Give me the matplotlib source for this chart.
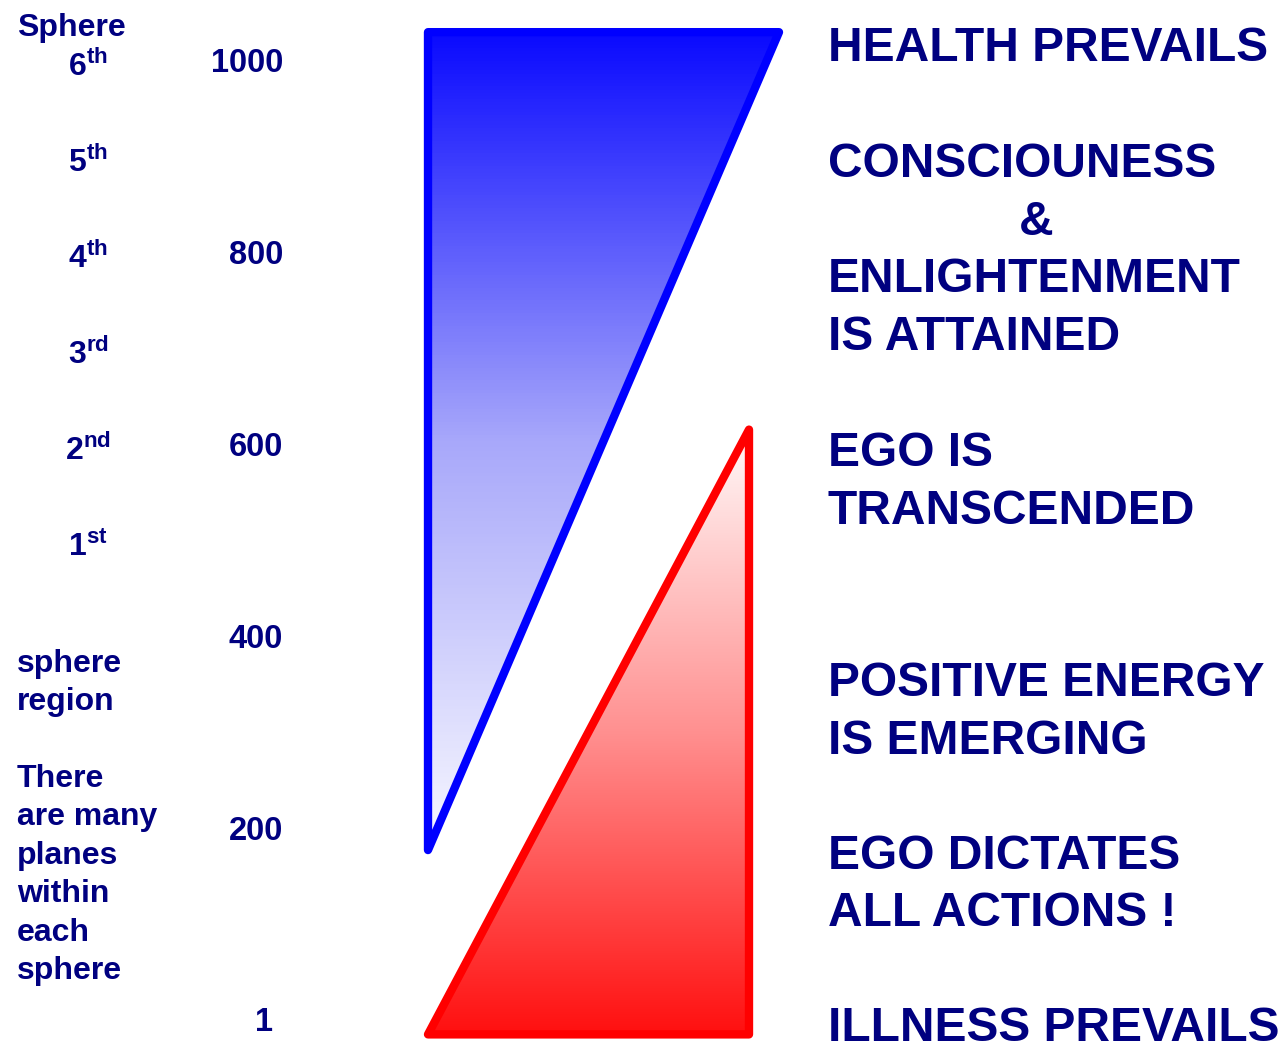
import numpy as np
import matplotlib.pyplot as plt
from matplotlib.patches import Polygon
from matplotlib.colors import LinearSegmentedColormap

plt.rcParams['font.family'] = ['Liberation Sans', 'DejaVu Sans']
plt.rcParams['font.weight'] = 'bold'
plt.rcParams['mathtext.fontset'] = 'custom'
plt.rcParams['mathtext.bf'] = 'Liberation Sans:bold'
plt.rcParams['mathtext.rm'] = 'Liberation Sans:bold'

navy = "#000080"

# scale values (consciousness level)
scale_values = [1000, 800, 600, 400, 200, 1]
scale_labels = ["1000", "800", "600", "400", "200", "1"]

# spheres
sphere_levels = [1000, 900, 800, 700, 600, 500]
sphere_nums = ["6", "5", "4", "3", "2", "1"]
sphere_sups = ["th", "th", "th", "rd", "nd", "st"]

# triangles in scale units (top, bottom)
blue_top, blue_bottom = 1029, 177
red_top, red_bottom = 615, -15

# right-hand phrases and their levels
phrases = ["HEALTH PREVAILS", "CONSCIOUNESS", "ENLIGHTENMENT", "IS ATTAINED",
           "EGO IS", "TRANSCENDED", "POSITIVE ENERGY", "IS EMERGING",
           "EGO DICTATES", "ALL ACTIONS !", "ILLNESS PREVAILS"]
phrase_levels = [1016, 895, 775, 715, 594, 534, 354, 294, 174, 115, -5]

notes = ["sphere", "region", "", "There", "are many", "planes", "within", "each", "sphere"]

fig = plt.figure(figsize=(12.87, 10.44), dpi=100)
ax = fig.add_axes([0, 0, 1, 1])
ax.set_xlim(0, 1287)
ax.set_ylim(-25, 1062.5)
ax.axis("off")

dy = 4  # text nudge down

# blue gradient triangle
blue_pts = [(428, blue_top), (779, blue_top), (428, blue_bottom)]
blue_cmap = LinearSegmentedColormap.from_list("b", ["#F8F8FF", "#A8A8FA", "#0A0AFF"])
grad = np.linspace(0, 1, 256).reshape(-1, 1)
im = ax.imshow(grad, cmap=blue_cmap, extent=(428, 779, blue_bottom, blue_top),
               origin="lower", aspect="auto", zorder=1)
poly = Polygon(blue_pts, closed=True, facecolor="none", edgecolor="#0000FF",
               linewidth=6, joinstyle="round", zorder=2)
ax.add_patch(poly)
im.set_clip_path(poly)

# red gradient triangle
red_pts = [(428, red_bottom), (749, red_bottom), (749, red_top)]
red_cmap = LinearSegmentedColormap.from_list("r", ["#FF1010", "#FF9090", "#FFFAFA"])
im2 = ax.imshow(grad, cmap=red_cmap, extent=(428, 749, red_bottom, red_top),
                origin="lower", aspect="auto", zorder=1)
poly2 = Polygon(red_pts, closed=True, facecolor="none", edgecolor="#FF0000",
                linewidth=6, joinstyle="round", zorder=2)
ax.add_patch(poly2)
im2.set_clip_path(poly2)

# scale numbers
for v, lab in zip(scale_values, scale_labels):
    x = 283 if lab != "1" else 273
    ax.text(x, v - dy, lab, ha="right", va="center", fontsize=23.5, color=navy, fontweight="bold")

# sphere labels
ax.text(17, 1036 - 3, "Sphere", ha="left", va="center", fontsize=23, color=navy, fontweight="bold")
for v, n, s in zip(sphere_levels, sphere_nums, sphere_sups):
    ax.text(88, v - 7, r"$\mathbf{%s}^{\mathbf{%s}}$" % (n, s), ha="center", va="center",
            fontsize=23, color=navy)

# notes on the left
y = 374 - 3
for line in notes:
    if line:
        ax.text(17, y, line, ha="left", va="center", fontsize=23, color=navy, fontweight="bold")
    y -= 40

# right-hand phrases
for txt, v in zip(phrases, phrase_levels):
    ax.text(828, v - dy, txt, ha="left", va="center", fontsize=34.5, color=navy, fontweight="bold")
ax.text(1036, 835 - dy, "&", ha="center", va="center", fontsize=34.5, color=navy, fontweight="bold")

fig.savefig("out.png", dpi=100)
